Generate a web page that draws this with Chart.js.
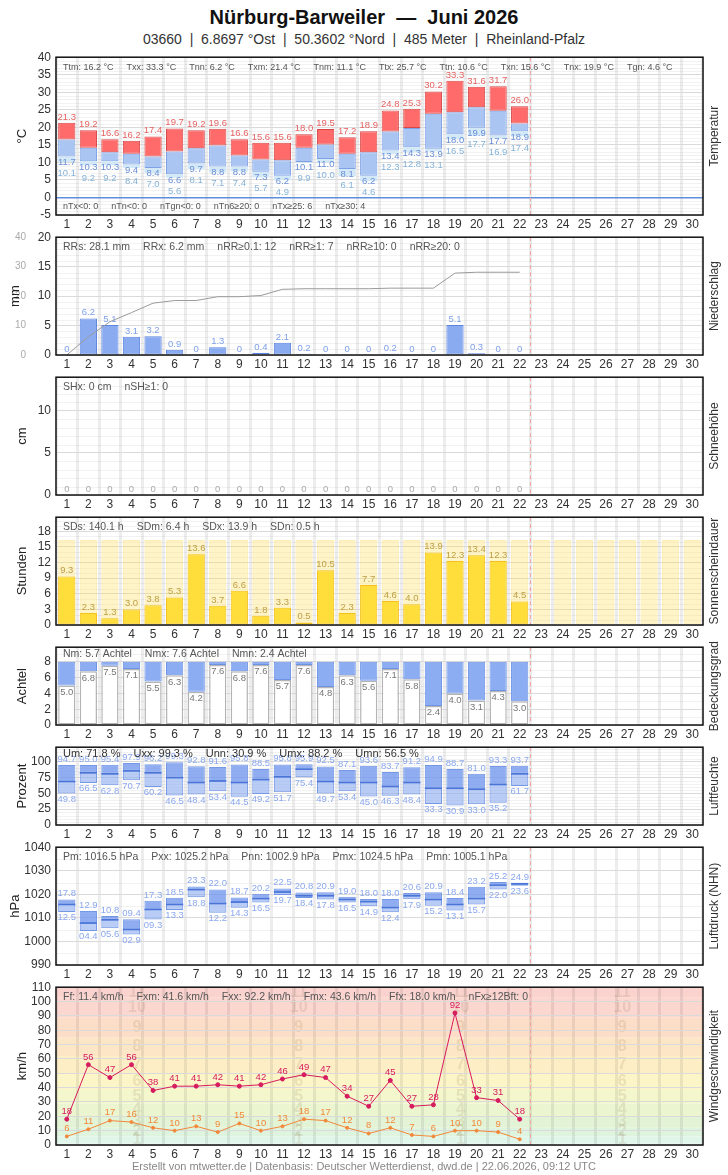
<!doctype html>
<html lang="de">
<head>
<meta charset="utf-8">
<title>Nürburg-Barweiler — Juni 2026</title>
<style>
  * { margin: 0; padding: 0; }
  body { width: 728px; height: 1175px; position: relative; background: #fff; font-family: "Liberation Sans", Arial, sans-serif; overflow: hidden; }
  .head { position: absolute; left: 0; width: 728px; text-align: center; white-space: pre; }
  .title { top: 6px; font-size: 20px; font-weight: bold; color: #111; }
  .sub { top: 31px; font-size: 14px; color: #333; }
  .box { position: absolute; left: 0; width: 728px; }
  .foot { position: absolute; top: 1160px; left: 0; width: 728px; text-align: center; font-size: 11px; color: #888; }
</style>
</head>
<body>
<div class="head title">Nürburg-Barweiler  —  Juni 2026</div>
<div class="head sub">03660  |  6.8697 °Ost  |  50.3602 °Nord  |  485 Meter  |  Rheinland-Pfalz</div>
<div class="box" style="top:45px;height:190px"><canvas id="temp"></canvas></div>
<div class="box" style="top:225px;height:150px"><canvas id="rain"></canvas></div>
<div class="box" style="top:365px;height:150px"><canvas id="snow"></canvas></div>
<div class="box" style="top:505px;height:140px"><canvas id="sun"></canvas></div>
<div class="box" style="top:635px;height:110px"><canvas id="cloud"></canvas></div>
<div class="box" style="top:735px;height:110px"><canvas id="hum"></canvas></div>
<div class="box" style="top:835px;height:150px"><canvas id="pres"></canvas></div>
<div class="box" style="top:975px;height:190px"><canvas id="wind"></canvas></div>
<div class="foot">Erstellt von mtwetter.de | Datenbasis: Deutscher Wetterdienst, dwd.de | 22.06.2026, 09:12 UTC</div>

<script src="https://cdn.jsdelivr.net/npm/chart.js"></script>
<script>
// x categories
const days = ['1','2','3','4','5','6','7','8','9','10','11','12','13','14','15','16','17','18','19','20','21','22','23','24','25','26','27','28','29','30'];

// Temperatur
const tMax = [21.3, 19.2, 16.6, 16.2, 17.4, 19.7, 19.2, 19.6, 16.6, 15.6, 15.6, 18.0, 19.5, 17.2, 18.9, 24.8, 25.3, 30.2, 33.3, 31.6, 31.7, 26.0];
const tMean = [16.5, 14.2, 12.9, 12.5, 11.7, 13.1, 14.0, 14.8, 12.0, 10.8, 10.6, 14.2, 15.1, 12.5, 12.9, 18.8, 19.8, 23.9, 24.3, 25.7, 24.7, 21.1];
const tMin = [11.7, 10.3, 10.3, 9.4, 8.4, 6.6, 9.7, 8.8, 8.8, 7.3, 6.2, 10.1, 11.0, 8.1, 6.2, 13.4, 14.3, 13.9, 18.0, 19.9, 17.7, 18.9];
const tGround = [10.1, 9.2, 9.2, 8.4, 7.0, 5.6, 8.1, 7.1, 7.4, 5.7, 4.9, 9.9, 10.0, 6.1, 4.6, 12.3, 12.8, 13.1, 16.5, 17.7, 16.9, 17.4];
const tempTicks = [-5, 0, 5, 10, 15, 20, 25, 30, 35, 40];

// Niederschlag
const rain = [0, 6.2, 5.1, 3.1, 3.2, 0.9, 0, 1.3, 0, 0.4, 2.1, 0.2, 0, 0, 0, 0.2, 0, 0, 5.1, 0.3, 0, 0];
const rainSum = [0, 6.2, 11.3, 14.4, 17.6, 18.5, 18.5, 19.8, 19.8, 20.2, 22.3, 22.5, 22.5, 22.5, 22.5, 22.7, 22.7, 22.7, 27.8, 28.1, 28.1, 28.1];
const rainTicks = [0, 5, 10, 15, 20];
const rainSumTicks = [0, 10, 20, 30, 40];

// Schneehöhe
const snow = [0, 0, 0, 0, 0, 0, 0, 0, 0, 0, 0, 0, 0, 0, 0, 0, 0, 0, 0, 0, 0, 0];
const snowTicks = [0, 5, 10];

// Sonnenscheindauer
const sun = [9.3, 2.3, 1.3, 3.0, 3.8, 5.3, 13.6, 3.7, 6.6, 1.8, 3.3, 0.5, 10.5, 2.3, 7.7, 4.6, 4.0, 13.9, 12.3, 13.4, 12.3, 4.5];
const sunPossible = [16.3, 16.3, 16.3, 16.3, 16.3, 16.3, 16.3, 16.3, 16.3, 16.3, 16.3, 16.3, 16.3, 16.3, 16.3, 16.3, 16.3, 16.3, 16.3, 16.3, 16.3, 16.3, 16.3, 16.3, 16.3, 16.3, 16.3, 16.3, 16.3, 16.3];
const sunTicks = [0, 3, 6, 9, 12, 15, 18];

// Bedeckungsgrad
const cloud = [5.0, 6.8, 7.5, 7.1, 5.5, 6.3, 4.2, 7.6, 6.8, 7.6, 5.7, 7.6, 4.8, 6.3, 5.6, 7.1, 5.8, 2.4, 4.0, 3.1, 4.3, 3.0];
const cloudTicks = [0, 2, 4, 6, 8];

// Luftfeuchte
const humMax = [94.7, 95.0, 95.4, 97.9, 96.2, 99.3, 92.8, 91.6, 95.8, 88.5, 95.8, 95.9, 92.5, 87.1, 93.6, 83.7, 91.2, 94.9, 88.7, 81.0, 93.3, 93.7];
const humMean = [68.8, 82.6, 81.0, 85.7, 82.6, 74.9, 67.2, 69.7, 67.2, 71.8, 76.4, 88.2, 68.8, 67.2, 67.2, 61.0, 67.2, 58.0, 58.0, 56.5, 64.1, 81.0];
const humMin = [49.8, 66.5, 62.8, 70.7, 60.2, 46.5, 48.4, 53.4, 44.5, 49.2, 51.7, 75.4, 49.7, 53.4, 45.0, 46.3, 48.4, 33.3, 30.9, 33.0, 35.2, 61.7];
const humTicks = [0, 25, 50, 75, 100];

// Luftdruck
const presMax = [1017.8, 1012.9, 1010.8, 1009.4, 1017.3, 1018.5, 1023.3, 1022.0, 1018.7, 1020.2, 1022.5, 1020.8, 1020.9, 1019.0, 1018.0, 1018.0, 1020.6, 1020.9, 1018.4, 1023.2, 1025.2, 1024.9];
const presMean = [1015.7, 1007.8, 1009.2, 1005.1, 1013.6, 1015.7, 1022.0, 1016.1, 1016.7, 1018.2, 1021.0, 1019.4, 1019.4, 1017.8, 1016.9, 1014.4, 1019.4, 1017.8, 1015.7, 1018.2, 1023.9, 1024.5];
const presMin = [1012.5, 1004.4, 1005.6, 1002.9, 1009.3, 1013.3, 1018.8, 1012.2, 1014.3, 1016.5, 1019.7, 1018.4, 1017.8, 1016.5, 1014.9, 1012.4, 1017.9, 1015.2, 1013.1, 1015.7, 1022.0, 1023.6];
const presTicks = [990, 1000, 1010, 1020, 1030, 1040];

// Wind
const windGust = [18, 56, 47, 56, 38, 41, 41, 42, 41, 42, 46, 49, 47, 34, 27, 45, 27, 28, 92, 33, 31, 18];
const windMean = [6, 11, 17, 16, 12, 10, 13, 9, 15, 10, 13, 18, 17, 12, 8, 12, 7, 6, 10, 10, 9, 4];
const windTicks = [0, 10, 20, 30, 40, 50, 60, 70, 80, 90, 100, 110];
const bftLimits = [0, 1, 6, 12, 20, 29, 39, 50, 62, 75, 89, 103, 118];
const bftColors = ['#e6f8f6', '#e1f6ea', '#def4df', '#e3f4d6', '#ebf5d0', '#f4f6cc', '#fcf5c8', '#fdeec6', '#fde6c6', '#fcdec8', '#fbd7cf', '#fad3cf'];

const FONT = '"Liberation Sans", Arial, Helvetica, sans-serif';
Chart.defaults.font.family = FONT;
Chart.defaults.color = '#333';
Chart.defaults.animation = false;
Chart.defaults.maintainAspectRatio = false;
Chart.defaults.plugins.legend.display = false;
Chart.defaults.plugins.tooltip.enabled = false;

const bar = { grouped: false, barPercentage: 0.8, categoryPercentage: 1, borderSkipped: false };
const pad = { top: 10, right: 25, bottom: 0, left: 0 };

function xScale() {
  return {
    type: 'category', labels: days, offset: true,
    grid: { offset: true, color: 'rgba(0,0,0,0.07)', lineWidth: 3, drawTicks: false },
    border: { display: false },
    ticks: { font: { size: 12 }, color: '#333', padding: 2, autoSkip: false, maxRotation: 0 },
    afterFit: s => { s.height = 20; }
  };
}

function yScale(min, max, ticks, width, extra) {
  return Object.assign({
    min: min, max: max, position: 'left',
    grid: {
      drawTicks: false,
      color: c => (extra && extra.zero && c.tick && c.tick.value === 0) ? '#5e8fdc' : '#dadada',
      lineWidth: c => (extra && extra.zero && c.tick && c.tick.value === 0) ? 1.5 : 1
    },
    border: { display: false },
    ticks: { font: { size: 12 }, color: '#333', padding: 5, autoSkip: false, callback: v => String(v) },
    afterBuildTicks: s => { s.ticks = ticks.map(v => ({ value: v })); },
    afterFit: s => { s.width = width || 56; }
  }, extra ? extra.opts : {});
}

function txt(ctx, s, x, y, color, size, base) {
  ctx.save();
  ctx.font = (size || 9.5) + 'px ' + FONT;
  ctx.fillStyle = color;
  ctx.textAlign = 'center';
  ctx.textBaseline = base || 'middle';
  ctx.fillText(s, x, y);
  ctx.restore();
}

// shared decoration: minor grid, today marker, frame, stats, axis titles
function deco(o) {
  return {
    id: 'deco',
    beforeDraw(chart) { if (o.back) o.back(chart); },
    beforeDatasetsDraw(chart) {
      const { ctx, chartArea: a, scales } = chart;
      const y = scales.y;
      ctx.save();
      ctx.beginPath();
      ctx.rect(a.left, a.top, a.right - a.left, a.bottom - a.top);
      ctx.clip();
      if (o.minor) {
        ctx.strokeStyle = 'rgba(0,0,0,0.05)';
        ctx.lineWidth = 1;
        for (let k = Math.ceil(y.min / o.minor); k * o.minor <= y.max + 1e-9; k++) {
          const v = k * o.minor;
          if (o.ticks.some(t => Math.abs(t - v) < 1e-6)) continue;
          const py = Math.round(y.getPixelForValue(v)) + 0.5;
          ctx.beginPath(); ctx.moveTo(a.left, py); ctx.lineTo(a.right, py); ctx.stroke();
        }
      }
      const mx = (scales.x.getPixelForValue(21) + scales.x.getPixelForValue(22)) / 2;
      ctx.strokeStyle = '#f3a3a3';
      ctx.lineWidth = 1;
      ctx.setLineDash([4, 3]);
      ctx.beginPath(); ctx.moveTo(mx, a.top); ctx.lineTo(mx, a.bottom); ctx.stroke();
      ctx.restore();
    },
    afterDatasetsDraw(chart) { if (o.labels) o.labels(chart); },
    afterDraw(chart) {
      const { ctx, chartArea: a } = chart;
      ctx.save();
      ctx.strokeStyle = '#111';
      ctx.lineWidth = 1.5;
      ctx.strokeRect(a.left, a.top, a.right - a.left, a.bottom - a.top);
      // stats rows
      (o.stats || []).forEach(row => {
        ctx.font = (row.size || 10.5) + 'px ' + FONT;
        ctx.fillStyle = row.color || '#555';
        ctx.textAlign = 'left';
        ctx.textBaseline = 'middle';
        let x = a.left + 7;
        const y = row.bottom ? a.bottom - row.dy : a.top + row.dy;
        row.items.forEach(t => { ctx.fillText(t, x, y); x += ctx.measureText(t).width + 13; });
      });
      // titles
      const mid = (a.top + a.bottom) / 2;
      ctx.fillStyle = '#222';
      ctx.textAlign = 'center';
      ctx.textBaseline = 'middle';
      ctx.font = '13px ' + FONT;
      ctx.save(); ctx.translate(o.leftX || 22, mid); ctx.rotate(-Math.PI / 2); ctx.fillText(o.left, 0, 0); ctx.restore();
      ctx.font = '12px ' + FONT;
      ctx.fillStyle = '#333';
      ctx.save(); ctx.translate(715, mid); ctx.rotate(-Math.PI / 2); ctx.fillText(o.right, 0, 0); ctx.restore();
      ctx.restore();
    }
  };
}

// ---------- Temperatur ----------
new Chart(document.getElementById('temp'), {
  type: 'bar',
  data: { labels: days, datasets: [
    Object.assign({}, bar, { data: tMax.map((v, i) => [tMean[i], v]), backgroundColor: '#ff6b6b', borderColor: '#d64848', borderWidth: 1, order: 1 }),
    Object.assign({}, bar, { data: tMin.map((v, i) => [v, tMean[i]]), backgroundColor: '#abc5f3', borderColor: '#7ea1e5', borderWidth: 1, order: 2 }),
    Object.assign({}, bar, { data: tGround.map((v, i) => [v, tMin[i]]), backgroundColor: '#d3e8f6', borderWidth: 0, order: 3 })
  ]},
  options: { layout: { padding: pad }, scales: { x: xScale(), y: yScale(-5, 40, tempTicks, 56, { zero: true }) } },
  plugins: [deco({
    left: '°C', right: 'Temperatur', minor: 1, ticks: tempTicks,
    stats: [
      { dy: 10, size: 9, items: ['Ttm: 16.2 °C', 'Txx: 33.3 °C', 'Tnn: 6.2 °C', 'Txm: 21.4 °C', 'Tnm: 11.1 °C', 'Ttx: 25.7 °C', 'Ttn: 10.6 °C', 'Txn: 15.6 °C', 'Tnx: 19.9 °C', 'Tgn: 4.6 °C'] },
      { dy: 8, bottom: true, size: 9, items: ['nTx<0: 0', 'nTn<0: 0', 'nTgn<0: 0', 'nTn6≥20: 0', 'nTx≥25: 6', 'nTx≥30: 4'] }
    ],
    labels(chart) {
      const ctx = chart.ctx, y = chart.scales.y, m = chart.getDatasetMeta(0).data;
      tMax.forEach((v, i) => {
        const x = m[i].x;
        txt(ctx, v.toFixed(1), x, y.getPixelForValue(v) - 1, '#e46262', 9.5, 'bottom');
        const pn = y.getPixelForValue(tMin[i]);
        txt(ctx, tMin[i].toFixed(1), x, pn + 1, '#6a8fd8', 9.5, 'top');
        txt(ctx, tGround[i].toFixed(1), x, pn + 12, '#86b3d8', 9.5, 'top');
      });
    }
  })]
});

// ---------- Niederschlag ----------
new Chart(document.getElementById('rain'), {
  type: 'bar',
  data: { labels: days, datasets: [
    Object.assign({}, bar, { data: rain, backgroundColor: '#8aabf0', borderColor: '#5d84e0', borderWidth: 1, order: 2 }),
    { type: 'line', data: rainSum, yAxisID: 'yc', borderColor: '#9a9a9a', borderWidth: 1, pointRadius: 0, tension: 0, order: 1 }
  ]},
  options: { layout: { padding: pad }, scales: {
    x: xScale(),
    y: yScale(0, 20, rainTicks, 22, { opts: { weight: 0 } }),
    yc: {
      min: 0, max: 40, position: 'left', weight: 1,
      grid: { display: false }, border: { display: false },
      ticks: { font: { size: 10 }, color: '#aaa', padding: 0, autoSkip: false },
      afterBuildTicks: s => { s.ticks = rainSumTicks.map(v => ({ value: v })); },
      afterFit: s => { s.width = 34; }
    }
  } },
  plugins: [deco({
    left: 'mm', leftX: 15, right: 'Niederschlag', minor: 1, ticks: rainTicks,
    stats: [{ dy: 10, items: ['RRs: 28.1 mm', 'RRx: 6.2 mm', 'nRR≥0.1: 12', 'nRR≥1: 7', 'nRR≥10: 0', 'nRR≥20: 0'] }],
    labels(chart) {
      const ctx = chart.ctx, y = chart.scales.y, m = chart.getDatasetMeta(0).data;
      rain.forEach((v, i) => {
        txt(ctx, v === 0 ? '0' : v.toFixed(1), m[i].x, y.getPixelForValue(v) - 1, '#7fa0e8', 9.5, 'bottom');
      });
    }
  })]
});

// ---------- Schneehöhe ----------
new Chart(document.getElementById('snow'), {
  type: 'bar',
  data: { labels: days, datasets: [
    Object.assign({}, bar, { data: snow, backgroundColor: '#c9d8f5', borderWidth: 0 })
  ]},
  options: { layout: { padding: pad }, scales: { x: xScale(), y: yScale(0, 14, snowTicks) } },
  plugins: [deco({
    left: 'cm', right: 'Schneehöhe', minor: 1, ticks: snowTicks,
    stats: [{ dy: 10, items: ['SHx: 0 cm', 'nSH≥1: 0'] }],
    labels(chart) {
      const ctx = chart.ctx, y = chart.scales.y, m = chart.getDatasetMeta(0).data;
      snow.forEach((v, i) => txt(ctx, String(v), m[i].x, y.getPixelForValue(v) - 1, '#aaa', 9.5, 'bottom'));
    }
  })]
});

// ---------- Sonnenscheindauer ----------
new Chart(document.getElementById('sun'), {
  type: 'bar',
  data: { labels: days, datasets: [
    Object.assign({}, bar, { data: sun, backgroundColor: '#ffdd3a', borderColor: '#f4c21f', borderWidth: 1, order: 1 }),
    Object.assign({}, bar, { data: sunPossible, backgroundColor: 'rgba(255,225,100,0.36)', borderColor: 'rgba(250,215,90,0.45)', borderWidth: 1, order: 2 })
  ]},
  options: { layout: { padding: pad }, scales: { x: xScale(), y: yScale(0, 20.7, sunTicks) } },
  plugins: [deco({
    left: 'Stunden', right: 'Sonnenscheindauer', minor: 1, ticks: sunTicks,
    stats: [{ dy: 10, items: ['SDs: 140.1 h', 'SDm: 6.4 h', 'SDx: 13.9 h', 'SDn: 0.5 h'] }],
    labels(chart) {
      const ctx = chart.ctx, y = chart.scales.y, m = chart.getDatasetMeta(0).data;
      sun.forEach((v, i) => txt(ctx, v.toFixed(1), m[i].x, y.getPixelForValue(v) - 1, '#bd9f45', 9.5, 'bottom'));
    }
  })]
});

// ---------- Bedeckungsgrad ----------
new Chart(document.getElementById('cloud'), {
  type: 'bar',
  data: { labels: days, datasets: [
    Object.assign({}, bar, { data: cloud.map(v => [v, 8]), backgroundColor: '#8cadf1', borderColor: '#6d92e6', borderWidth: 1, order: 1 }),
    Object.assign({}, bar, { data: cloud.map(v => [0, v]), backgroundColor: '#ffffff', borderColor: '#b4b4b4', borderWidth: 1.5, order: 2 })
  ]},
  options: { layout: { padding: pad }, scales: { x: xScale(), y: yScale(0, 9.85, cloudTicks) } },
  plugins: [deco({
    left: 'Achtel', right: 'Bedeckungsgrad', minor: 1, ticks: cloudTicks,
    stats: [{ dy: 7, items: ['Nm: 5.7 Achtel', 'Nmx: 7.6 Achtel', 'Nmn: 2.4 Achtel'] }],
    labels(chart) {
      const ctx = chart.ctx, y = chart.scales.y, m = chart.getDatasetMeta(0).data;
      cloud.forEach((v, i) => txt(ctx, v.toFixed(1), m[i].x, y.getPixelForValue(v) + 2, '#777', 9.5, 'top'));
    }
  })]
});

// ---------- Luftfeuchte ----------
function meanLines(chart, values) {
  const ctx = chart.ctx, y = chart.scales.y, m = chart.getDatasetMeta(0).data;
  ctx.save();
  ctx.strokeStyle = '#4a74d8';
  ctx.lineWidth = 1.5;
  values.forEach((v, i) => {
    const py = y.getPixelForValue(v);
    ctx.beginPath(); ctx.moveTo(m[i].x - m[i].width / 2, py); ctx.lineTo(m[i].x + m[i].width / 2, py); ctx.stroke();
  });
  ctx.restore();
}

new Chart(document.getElementById('hum'), {
  type: 'bar',
  data: { labels: days, datasets: [
    Object.assign({}, bar, { data: humMax.map((v, i) => [humMean[i], v]), backgroundColor: 'rgba(112,150,236,0.78)', borderColor: '#7598e6', borderWidth: 1, order: 1 }),
    Object.assign({}, bar, { data: humMin.map((v, i) => [v, humMean[i]]), backgroundColor: 'rgba(140,172,240,0.62)', borderColor: '#7598e6', borderWidth: 1, order: 2 })
  ]},
  options: { layout: { padding: pad }, scales: { x: xScale(), y: yScale(0, 123, humTicks) } },
  plugins: [deco({
    left: 'Prozent', right: 'Luftfeuchte', minor: 5, ticks: humTicks,
    stats: [{ dy: 7, size: 11, color: '#333', items: ['Um: 71.8 %', 'Uxx: 99.3 %', 'Unn: 30.9 %', 'Umx: 88.2 %', 'Umn: 56.5 %'] }],
    labels(chart) {
      meanLines(chart, humMean);
      const ctx = chart.ctx, y = chart.scales.y, m = chart.getDatasetMeta(0).data;
      humMax.forEach((v, i) => {
        txt(ctx, v.toFixed(1), m[i].x, y.getPixelForValue(v) - 1, '#8ba8ee', 9.5, 'bottom');
        txt(ctx, humMin[i].toFixed(1), m[i].x, y.getPixelForValue(humMin[i]) + 1, '#8ba8ee', 9.5, 'top');
      });
    }
  })]
});

// ---------- Luftdruck ----------
const hpa = v => (v % 100).toFixed(1).padStart(4, '0');
new Chart(document.getElementById('pres'), {
  type: 'bar',
  data: { labels: days, datasets: [
    Object.assign({}, bar, { data: presMax.map((v, i) => [presMean[i], v]), backgroundColor: 'rgba(112,150,236,0.78)', borderColor: '#7598e6', borderWidth: 1, order: 1 }),
    Object.assign({}, bar, { data: presMin.map((v, i) => [v, presMean[i]]), backgroundColor: 'rgba(140,172,240,0.62)', borderColor: '#7598e6', borderWidth: 1, order: 2 })
  ]},
  options: { layout: { padding: pad }, scales: { x: xScale(), y: yScale(990, 1040, presTicks) } },
  plugins: [deco({
    left: 'hPa', leftX: 15, right: 'Luftdruck (NHN)', minor: 5, ticks: presTicks,
    stats: [{ dy: 10, items: ['Pm: 1016.5 hPa', 'Pxx: 1025.2 hPa', 'Pnn: 1002.9 hPa', 'Pmx: 1024.5 hPa', 'Pmn: 1005.1 hPa'] }],
    labels(chart) {
      meanLines(chart, presMean);
      const ctx = chart.ctx, y = chart.scales.y, m = chart.getDatasetMeta(0).data;
      presMax.forEach((v, i) => {
        txt(ctx, hpa(v), m[i].x, y.getPixelForValue(v) - 1, '#8ba8ee', 9.5, 'bottom');
        txt(ctx, hpa(presMin[i]), m[i].x, y.getPixelForValue(presMin[i]) + 1, '#8ba8ee', 9.5, 'top');
      });
    }
  })]
});

// ---------- Windgeschwindigkeit ----------
new Chart(document.getElementById('wind'), {
  type: 'line',
  data: { labels: days, datasets: [
    { data: windGust, borderColor: '#d61b5e', backgroundColor: '#d61b5e', borderWidth: 1, pointRadius: 2, tension: 0 },
    { data: windMean, borderColor: '#f2883a', backgroundColor: '#f2883a', borderWidth: 1, pointRadius: 1.5, tension: 0 }
  ]},
  options: { layout: { padding: pad }, scales: { x: xScale(), y: yScale(0, 110, windTicks) } },
  plugins: [deco({
    left: 'km/h', right: 'Windgeschwindigkeit', ticks: windTicks,
    stats: [{ dy: 10, items: ['Ff: 11.4 km/h', 'Fxm: 41.6 km/h', 'Fxx: 92.2 km/h', 'Fmx: 43.6 km/h', 'Ffx: 18.0 km/h', 'nFx≥12Bft: 0'] }],
    back(chart) {
      const { ctx, chartArea: a, scales: { y } } = chart;
      ctx.save();
      ctx.beginPath(); ctx.rect(a.left, a.top, a.right - a.left, a.bottom - a.top); ctx.clip();
      for (let i = 0; i < bftColors.length; i++) {
        const y0 = y.getPixelForValue(bftLimits[i]), y1 = y.getPixelForValue(bftLimits[i + 1]);
        ctx.fillStyle = bftColors[i];
        ctx.fillRect(a.left, y1, a.right - a.left, y0 - y1);
      }
      ctx.font = 'bold 16px ' + FONT;
      ctx.fillStyle = 'rgba(130,100,60,0.14)';
      ctx.textAlign = 'center';
      ctx.textBaseline = 'middle';
      for (let i = 1; i < bftColors.length; i++) {
        const mid = (bftLimits[i] + Math.min(bftLimits[i + 1], y.max)) / 2;
        [1, 3, 5, 7].forEach(k => ctx.fillText(String(i), a.left + (a.right - a.left) * k / 8, y.getPixelForValue(mid)));
      }
      ctx.restore();
    },
    labels(chart) {
      const ctx = chart.ctx;
      const g = chart.getDatasetMeta(0).data, f = chart.getDatasetMeta(1).data;
      windGust.forEach((v, i) => txt(ctx, String(v), g[i].x, g[i].y - 3, '#d61b5e', 9.5, 'bottom'));
      windMean.forEach((v, i) => txt(ctx, String(v), f[i].x, f[i].y - 3, '#f2883a', 9.5, 'bottom'));
    }
  })]
});
</script>
</body>
</html>
